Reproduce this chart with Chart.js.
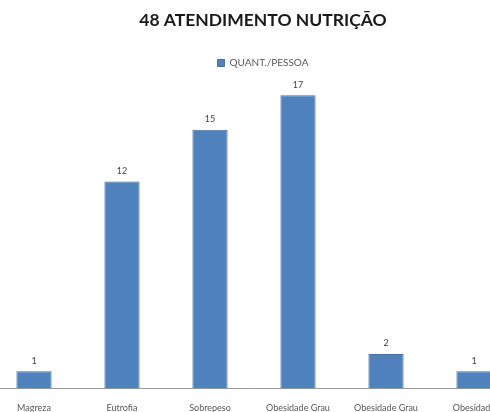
<!DOCTYPE html>
<html>
<head>
<meta charset="utf-8">
<script src="https://cdn.jsdelivr.net/npm/chart.js@4/dist/chart.umd.min.js"></script>
<style>
  html, body { margin: 0; padding: 0; background: #fff; overflow: hidden; }
  #wrap { position: absolute; left: -10px; top: 0; width: 546px; height: 438px; }
</style>
</head>
<body>
<div id="wrap"><canvas id="chart"></canvas></div>
<script>
const categorias = [
    'Magreza',
    'Eutrofia',
    'Sobrepeso',
    ['Obesidade Grau', 'I'],
    ['Obesidade Grau', 'II'],
    ['Obesidade', 'Grau III']
];
const quantidade = [1, 12, 15, 17, 2, 1];
const serieNome = 'QUANT./PESSOA';
const titulo = '48 ATENDIMENTO NUTRIÇÃO';

// escreve o valor em cima de cada barra
const rotulos = {
    id: 'rotulos',
    afterDatasetsDraw(chart) {
        const { ctx } = chart;
        ctx.save();
        ctx.font = '9px Lato';
        ctx.fillStyle = '#404040';
        ctx.textAlign = 'center';
        ctx.textBaseline = 'bottom';
        chart.getDatasetMeta(0).data.forEach((bar, i) => {
            ctx.fillText(chart.data.datasets[0].data[i], bar.x, bar.y - 6);
        });
        ctx.restore();
    }
};

Chart.defaults.font.family = 'Lato, "Open Sans", sans-serif';

new Chart(document.getElementById('chart').getContext('2d'), {
    type: 'bar',
    data: {
        labels: categorias,
        datasets: [{
            label: serieNome,
            data: quantidade,
            backgroundColor: '#4F81BD',
            borderColor: '#46729F',
            borderWidth: 1,
            barPercentage: 0.4,
            categoryPercentage: 1
        }]
    },
    options: {
        responsive: true,
        maintainAspectRatio: false,
        animation: false,
        layout: { padding: { top: 10, left: 0, right: 0, bottom: 0 } },
        plugins: {
            title: {
                display: true,
                text: titulo,
                color: '#1a1a1a',
                font: { size: 17.5, weight: 'bold' },
                padding: { top: 0, bottom: 11 }
            },
            legend: {
                labels: { boxWidth: 7, boxHeight: 7, color: '#595959', font: { size: 10 }, padding: 16 }
            },
            tooltip: { enabled: false }
        },
        scales: {
            x: {
                grid: { display: false, drawTicks: false },
                border: { color: '#9a9a9a' },
                ticks: { color: '#595959', font: { size: 9 }, padding: 14, maxRotation: 0, autoSkip: false }
            },
            y: {
                position: 'right',
                min: 0,
                max: 18,
                grid: { display: false },
                border: { display: false },
                ticks: { display: false },
                afterFit(scale) { scale.width = 18; }
            }
        }
    },
    plugins: [rotulos]
});
</script>
</body>
</html>
